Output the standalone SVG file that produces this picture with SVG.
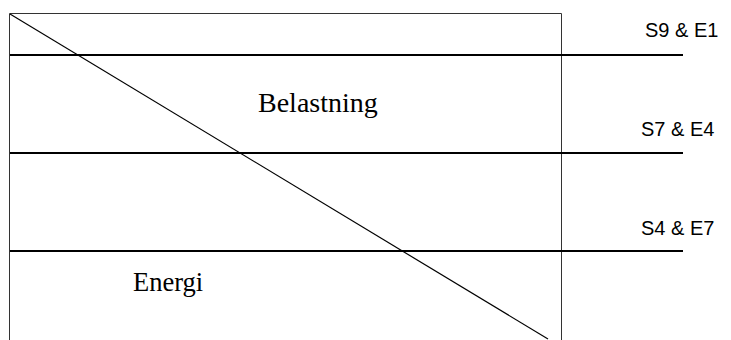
<svg xmlns="http://www.w3.org/2000/svg" width="731" height="340" viewBox="0 0 731 340">
  <style>
    .frame { fill: none; stroke: #333; stroke-width: 1; }
    .level { stroke: #000; stroke-width: 2; }
    .diag { stroke: #000; stroke-width: 1.2; }
    .zone { font-family: "Liberation Serif", "Times New Roman", serif; font-size: 26.5px; fill: #000; }
    .tag { font-family: "Liberation Sans", Arial, sans-serif; font-size: 20px; fill: #000; }
  </style>
  <rect width="731" height="340" fill="#fff"/>
  <g id="frame">
    <path class="frame" d="M9.5,345 V13.5 H561.5 V345"/>
  </g>
  <g id="connectors">
    <line class="diag" x1="10" y1="14" x2="548" y2="339"/>
    <line class="level" x1="10" y1="55" x2="683" y2="55"/>
    <line class="level" x1="10" y1="153" x2="683" y2="153"/>
    <line class="level" x1="10" y1="251" x2="683" y2="251"/>
  </g>
  <g id="belastning">
    <text class="zone" x="258" y="112" style="font-size:28px">Belastning</text>
  </g>
  <g id="energi">
    <text class="zone" x="133" y="291">Energi</text>
  </g>
  <g id="s9e1">
    <text class="tag" x="645" y="37">S9 &amp; E1</text>
  </g>
  <g id="s7e4">
    <text class="tag" x="641" y="136">S7 &amp; E4</text>
  </g>
  <g id="s4e7">
    <text class="tag" x="641" y="235">S4 &amp; E7</text>
  </g>
</svg>
